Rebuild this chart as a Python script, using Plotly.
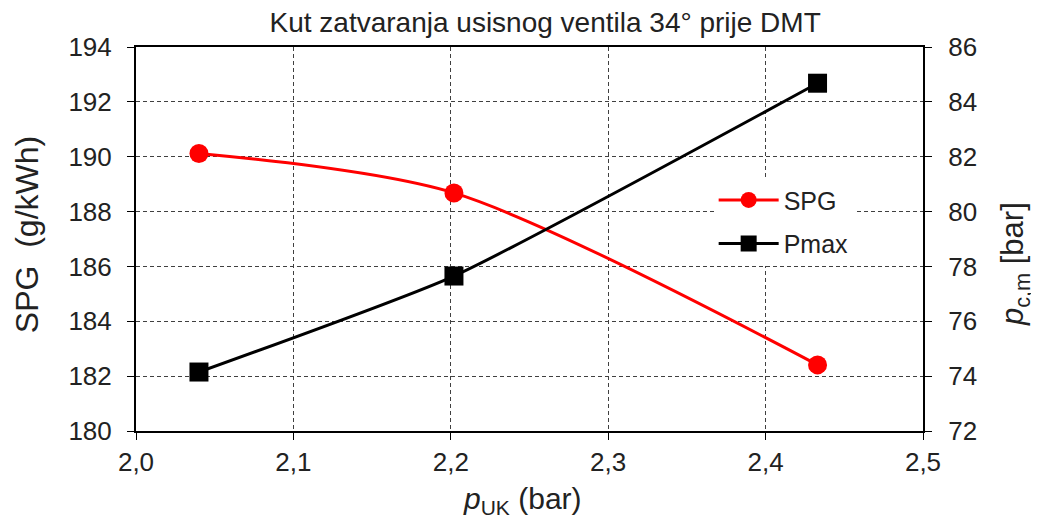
import plotly.graph_objects as go

# p_UK values (bar)
p_uk = [2.04, 2.202, 2.433]
# specific fuel consumption (g/kWh)
spg = [190.12, 188.68, 182.41]
# max cylinder pressure (bar)
pmax = [74.15, 77.65, 84.68]

font = "Liberation Sans, Arial, sans-serif"
grid = dict(showgrid=True, gridcolor="#404040", griddash="4px,3px", gridwidth=1)

fig = go.Figure()

fig.add_trace(go.Scatter(
    x=p_uk, y=spg, name="SPG", mode="lines+markers", legendgroup="a",
    line=dict(color="#ff0000", width=3, shape="spline", smoothing=0.8),
    marker=dict(color="#ff0000", size=19, symbol="circle"),
))
fig.add_trace(go.Scatter(
    x=p_uk, y=pmax, name="Pmax", mode="lines+markers", yaxis="y2", legendgroup="b",
    line=dict(color="#000000", width=3, shape="spline", smoothing=0.5),
    marker=dict(color="#000000", size=19, symbol="square"),
))

fig.update_layout(
    width=1039, height=520,
    margin=dict(l=128, r=124, t=39, b=97),
    paper_bgcolor="white", plot_bgcolor="white",
    separators=", ",
    font=dict(family=font, size=26, color="#222"),
    title=dict(text="Kut zatvaranja usisnog ventila 34° prije DMT",
               x=0.517, xanchor="center", y=0.973, yanchor="middle",
               font=dict(size=28, color="#222")),
    xaxis=dict(range=[2.0, 2.5], dtick=0.1, tickformat=".1f",
               showline=True, linecolor="black", linewidth=2, mirror=True,
               ticks="outside", ticklen=7, tickcolor="black",
               zeroline=False, tickfont=dict(size=26),
               **grid),
    yaxis=dict(range=[180, 194], dtick=2,
               showline=True, linecolor="black", linewidth=2,
               ticks="outside", ticklen=7, tickcolor="black",
               ticklabelstandoff=10,
               zeroline=False, tickfont=dict(size=26),
               **grid),
    yaxis2=dict(range=[72, 86], dtick=2, overlaying="y", side="right",
                showline=True, linecolor="black", linewidth=2,
                ticks="outside", ticklen=7, tickcolor="black",
                ticklabelstandoff=11,
                showgrid=False, zeroline=False, tickfont=dict(size=26)),
    legend=dict(x=0.734, y=0.661, xanchor="left", yanchor="top",
                bgcolor="white", font=dict(size=25), itemwidth=60,
                traceorder="grouped", tracegroupgap=8),
    showlegend=True,
)

# axis titles placed as annotations to match their positions
fig.add_annotation(text="SPG  (g/kWh)", xref="paper", yref="paper",
                   x=-0.1385, y=0.51, xanchor="center", yanchor="middle",
                   textangle=-90, showarrow=False, font=dict(size=32))
fig.add_annotation(text="<i>p</i><sub>UK</sub> (bar)", xref="paper", yref="paper",
                   x=0.4905, y=-0.18, xanchor="center", yanchor="middle",
                   showarrow=False, font=dict(size=30))
fig.add_annotation(text="<i>p</i><sub>c,m</sub> [bar]", xref="paper", yref="paper",
                   x=1.117, y=0.435, xanchor="center", yanchor="middle",
                   textangle=-90, showarrow=False, font=dict(size=31))

fig.write_html("out.html")
